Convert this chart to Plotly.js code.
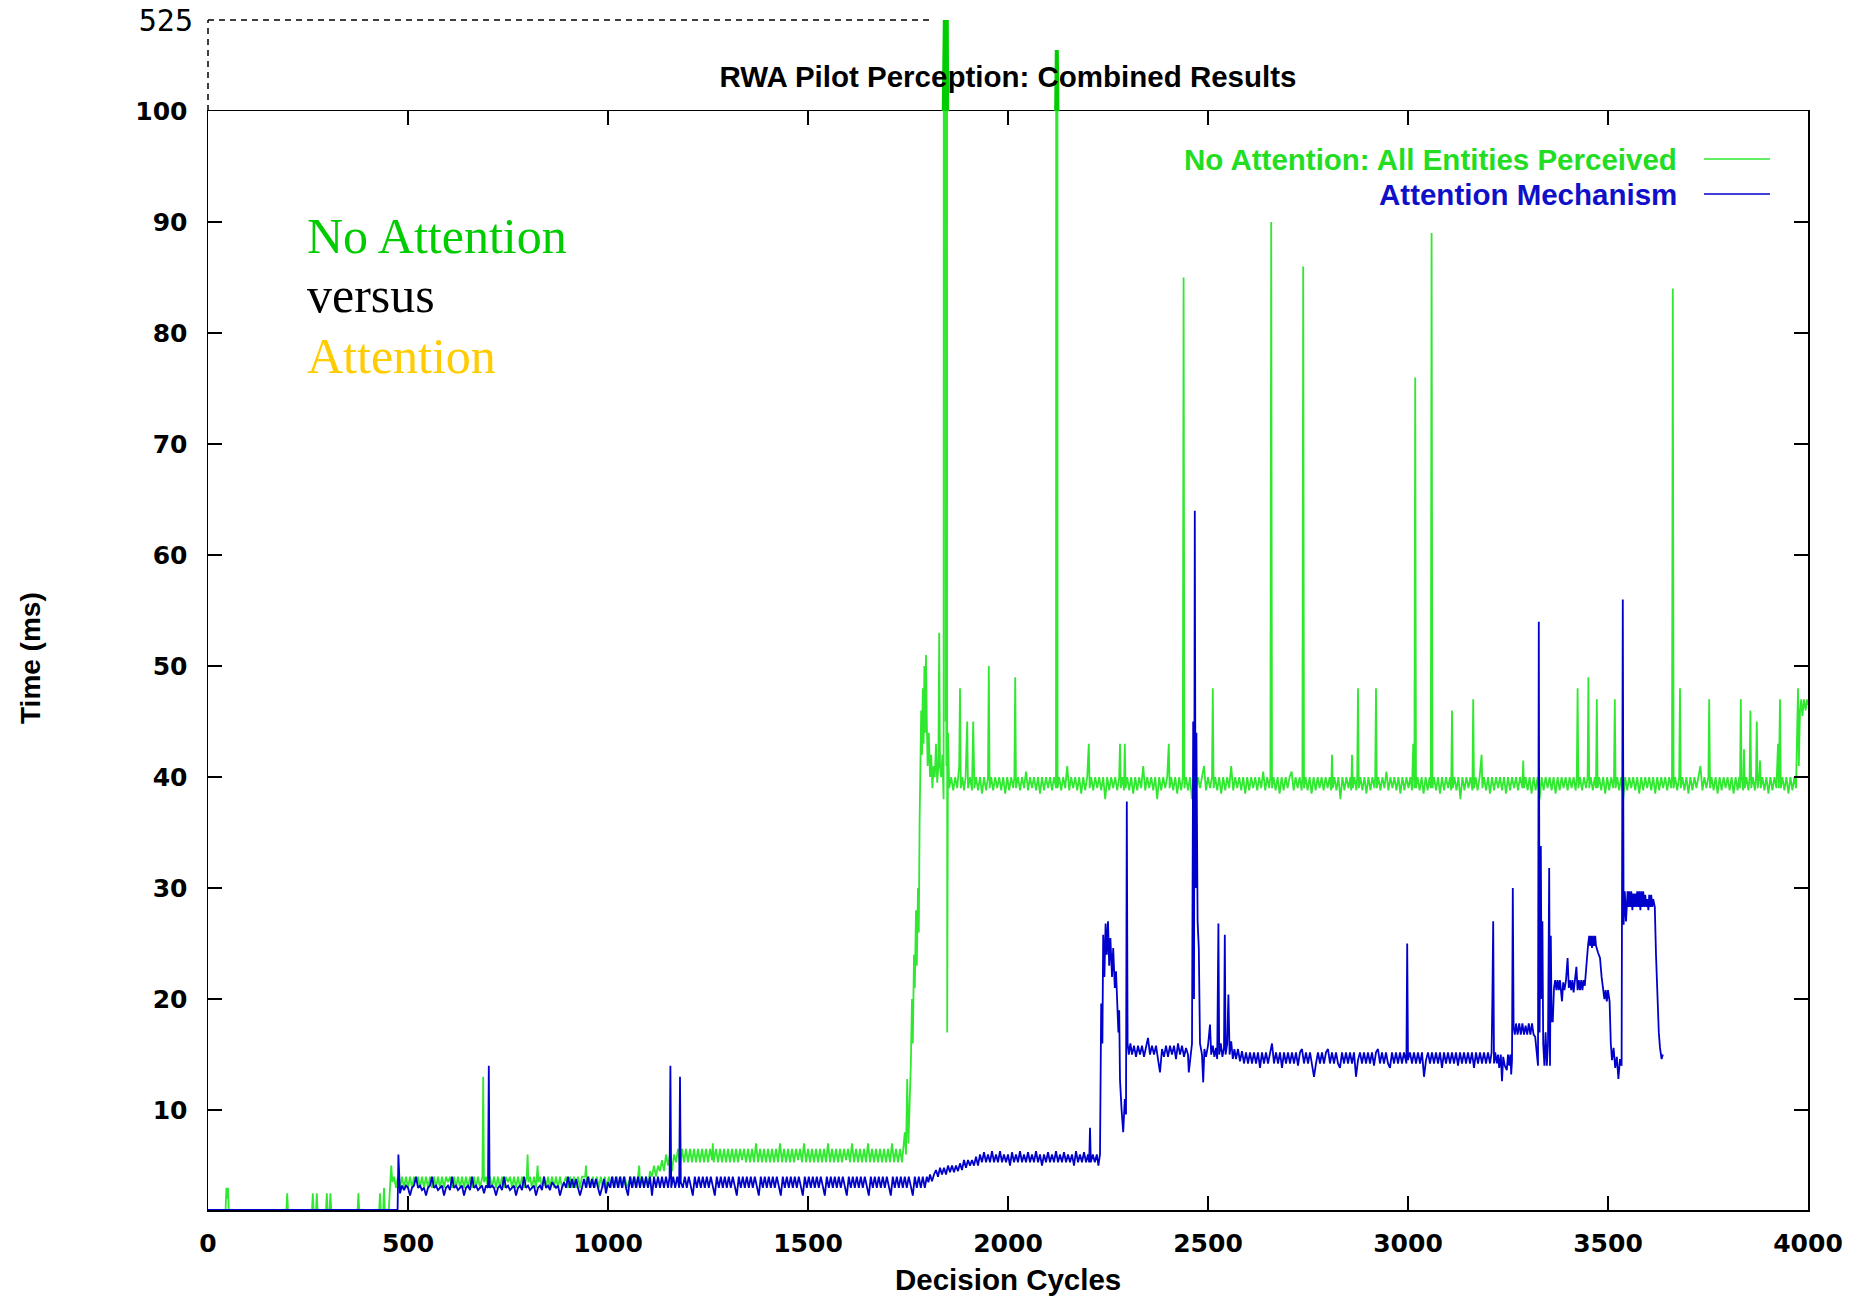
<!DOCTYPE html>
<html>
<head>
<meta charset="utf-8">
<script src="https://cdn.plot.ly/plotly-3.0.1.min.js"></script>
<style>html,body{margin:0;padding:0;background:#fff}#chart{width:1866px;height:1297px}</style>
</head>
<body>
<div id="chart"></div>
<script>
// ---- data: [decision cycle, time (ms)] ----
const noAttnStart = [[0,1],[44,1],[46,3],[48,2],[50,3],[52,1],[196,1],[198,2.5],[200,1],[260,1],[262,2.5],[264,1],[270,1],[272,2.5],[274,1],[295,1],[297,2.5],[299,1],[304,1],[306,2.5],[308,1],[374,1],[376,2.5],[378,1],[428,1],[430,2.5],[432,1],[438,1],[440,3],[442,1],[452,1]];
const noAttnLow = [[455,3],[458,5],[461,3.5],[465,4],[470,3],[475,4],[480,3],[485,4],[490,3],[495,4],[500,3],[505,4],[510,3],[515,4],[520,3.5],[525,4],[530,3],[535,4],[540,3],[545,4],[550,3],[555,4],[560,3],[565,4],[570,3],[575,4],[580,3],[585,4],[590,3],[595,4],[600,3.5],[605,4],[610,3],[615,4],[620,3],[625,4],[630,3],[635,4],[640,3],[645,4],[650,3],[655,4],[660,3],[665,4],[670,3],[675,4],[680,3],[686,4],[688,13],[690,3.5],[695,4],[700,3],[705,4],[710,3],[715,4],[720,3],[725,4],[730,3],[735,4],[740,3],[745,4],[750,3.5],[755,4],[760,3],[765,4],[770,3],[775,4],[780,3],[785,4],[790,3],[797,4],[799,6],[801,3.5],[805,4],[810,3],[815,4],[820,3],[824,5],[826,3.5],[830,4],[835,3],[840,4],[845,3],[850,4],[855,3],[860,4],[865,3],[870,4],[875,3],[880,4],[885,3],[890,3.5],[895,4],[900,3],[905,4],[910,3],[915,4],[920,3],[925,4],[930,3],[935,4],[943,4],[945,5],[947,3],[952,4],[957,3],[962,4],[967,3],[972,4],[977,3],[982,4],[987,3],[992,4],[997,3],[1002,4],[1007,3],[1012,4],[1017,3],[1022,4],[1027,3],[1032,4],[1037,3],[1042,4],[1047,3],[1052,3.5],[1057,4],[1062,3],[1067,4],[1072,3],[1078,5],[1080,3.5],[1085,4],[1090,3],[1095,4],[1100,3],[1105,4.5],[1110,4],[1115,5],[1120,4],[1125,5],[1130,4.5],[1135,5.5],[1140,4.5]];
const noAttnMid = [[1145,6],[1150,5],[1155,6],[1160,4.5],[1165,6],[1170,5.3],[1175,6.5],[1180,5],[1185,6.5],[1190,5.3],[1195,6.5],[1200,5.3],[1205,6.5],[1210,5.3],[1215,6.5],[1220,5.3],[1225,6.5],[1230,5.3],[1235,6.5],[1240,5.3],[1245,6.5],[1250,5.3],[1255,6.5],[1260,5.5],[1262,7],[1264,5.3],[1270,6.5],[1275,5.3],[1280,6.5],[1285,5.3],[1290,6.5],[1295,5.3],[1300,6.5],[1305,5.3],[1310,6.5],[1315,5.3],[1320,6.5],[1325,5.3],[1330,6.5],[1335,5.5],[1340,6.5],[1345,5.3],[1350,6.5],[1355,5.3],[1360,6.5],[1365,5.3],[1370,7],[1375,5.3],[1380,6.5],[1385,5.3],[1390,6.5],[1395,5.3],[1400,6.5],[1405,5.3],[1410,6.5],[1415,5.3],[1420,6.5],[1425,5.3],[1430,7],[1435,5.3],[1440,6.5],[1445,5.3],[1450,6.5],[1455,5.3],[1460,6.5],[1465,5.3],[1470,6.5],[1475,5.5],[1480,6.5],[1485,5.3],[1490,7],[1495,5.3],[1500,6.5],[1505,5.3],[1510,6.5],[1515,5.3],[1520,6.5],[1525,5.3],[1530,6.5],[1535,5.3],[1540,6.5],[1545,5.3],[1550,7],[1555,5.3],[1560,6.5],[1565,5.3],[1570,6.5],[1575,5.3],[1580,6.5],[1585,5.3],[1590,6.5],[1595,5.5],[1600,6.5],[1605,5.3],[1610,7],[1615,5.3],[1620,6.5],[1625,5.3],[1630,6.5],[1635,5.3],[1640,6.5],[1645,5.3],[1650,7],[1655,5.3],[1660,6.5],[1665,5.3],[1670,6.5],[1675,5.3],[1680,6.5],[1685,5.3],[1690,6.5],[1695,5.3],[1700,6.5],[1705,5.3],[1710,7],[1715,5.3],[1720,6.5],[1725,5.3],[1730,6.5],[1735,5.3],[1738,6.5]];
const noAttnRise = [[1742,8],[1745,6],[1748,12.8],[1751,7],[1754,10],[1757,14],[1760,20],[1762,16],[1765,24],[1767,21],[1770,28],[1772,23],[1775,30],[1777,26],[1779,36],[1781,40],[1783,46],[1785,42],[1787,48],[1789,43],[1791,50],[1793,44],[1795,51],[1797,45],[1799,41],[1802,44],[1805,40],[1808,42],[1811,39],[1814,41],[1817,40],[1820,43],[1823,39.5],[1826,41],[1828,53],[1830,41],[1833,40],[1836,42],[1839,38],[1842,525],[1844,45],[1845,62],[1846,41],[1847,525],[1848,17],[1850,44],[1853,39]];
const noAttnPlateau = [[1858,40],[1863,38.8],[1868,40],[1873,39],[1878,41],[1880,48],[1882,39],[1886,40],[1890,38.8],[1894,40],[1898,45],[1900,39],[1905,40],[1910,38.8],[1913,45],[1916,39],[1920,40],[1925,38.8],[1930,40],[1935,38.5],[1940,40],[1945,38.8],[1950,40],[1952,50],[1954,39],[1958,40],[1963,38.8],[1968,40],[1973,39],[1978,40],[1983,38.8],[1988,40],[1993,38.5],[1998,40],[2003,38.8],[2008,40],[2013,39],[2016,40],[2018,49],[2020,39],[2025,40],[2030,38.8],[2035,40],[2040,39],[2045,40.5],[2050,38.8],[2055,40],[2060,39],[2065,40],[2070,38.8],[2075,40],[2080,38.5],[2085,40],[2090,38.8],[2095,40],[2100,39],[2105,40],[2110,38.8],[2115,40],[2120,39],[2122,385],[2124,39],[2128,40],[2133,38.8],[2138,40],[2143,39],[2148,41],[2153,38.8],[2158,40],[2163,39],[2168,40],[2173,38.8],[2178,40],[2183,38.5],[2188,40],[2193,38.8],[2198,40],[2202,43],[2204,39],[2208,40],[2213,38.8],[2218,40],[2223,39],[2228,40],[2233,38.8],[2238,40],[2243,38],[2248,40],[2253,38.8],[2258,40],[2263,39],[2268,40],[2273,38.8],[2278,40],[2280,43],[2282,39],[2286,40],[2290,38.8],[2292,43],[2294,39],[2298,40],[2303,38.8],[2308,40],[2313,38.5],[2318,40],[2323,38.8],[2328,40],[2333,39],[2338,41],[2343,38.8],[2348,40],[2353,39],[2358,40],[2363,38.8],[2368,40],[2373,38],[2378,40],[2383,38.8],[2388,40],[2393,39],[2398,40],[2402,43],[2404,39],[2408,40],[2413,38.8],[2418,40],[2423,38.5],[2428,40],[2433,38.8],[2437,40],[2439,85],[2441,39],[2445,40],[2450,38.8],[2455,40],[2460,38],[2465,40],[2470,38.8],[2475,40],[2480,39],[2485,40],[2490,41],[2495,38.8],[2500,40],[2505,39],[2510,40],[2512,48],[2514,39],[2518,40],[2523,38.8],[2528,40],[2533,38.5],[2538,40],[2543,38.8],[2548,40],[2553,39],[2558,41],[2563,38.8],[2568,40],[2573,39],[2578,40],[2583,38.8],[2588,40],[2593,38.5],[2598,40],[2603,38.8],[2608,40],[2613,39],[2618,40],[2623,38.8],[2628,40],[2633,39],[2638,40.5],[2643,38.8],[2648,40],[2653,39],[2656,40],[2658,90],[2660,39],[2664,40],[2669,38.8],[2674,40],[2679,38.5],[2684,40],[2689,38.8],[2694,40],[2699,39],[2704,40],[2709,40.5],[2714,38.8],[2719,40],[2724,39],[2729,40],[2734,38.8],[2736,40],[2738,86],[2740,39],[2744,40],[2749,38.8],[2754,40],[2759,38.5],[2764,40],[2769,38.8],[2774,40],[2779,39],[2784,40],[2789,38.8],[2794,40],[2799,39],[2804,40],[2808,38.8],[2810,42],[2812,39],[2816,40],[2821,38.8],[2826,40],[2831,38],[2836,40],[2841,38.8],[2846,40],[2851,39],[2856,40],[2858,38.8],[2860,42],[2862,39],[2866,40],[2871,38.8],[2873,40],[2875,48],[2877,39],[2881,40],[2886,38.8],[2891,40],[2896,38.5],[2901,40],[2906,38.8],[2911,40],[2916,39],[2918,40],[2920,48],[2922,39],[2926,40],[2931,38.8],[2936,40],[2941,39],[2946,40.5],[2951,38.8],[2956,40],[2961,39],[2966,40],[2971,38.8],[2976,40],[2981,38.5],[2986,40],[2991,38.8],[2996,40],[3001,39],[3006,40],[3010,38.8],[3013,43],[3016,39],[3018,76],[3020,39],[3024,40],[3029,38.8],[3034,40],[3039,38.5],[3044,40],[3049,38.8],[3054,40],[3057,39],[3059,89],[3061,39],[3065,40],[3070,38.8],[3075,40],[3080,38.5],[3085,40],[3090,38.8],[3095,40],[3100,39],[3105,40],[3108,38.8],[3110,46],[3112,39],[3116,40],[3121,38.8],[3126,40],[3131,38],[3136,40],[3141,38.8],[3146,40],[3151,39],[3156,40],[3161,38.8],[3163,47],[3165,39],[3169,40],[3174,38.8],[3179,40],[3184,42],[3186,39],[3190,40],[3195,38.8],[3200,40],[3205,38.5],[3210,40],[3215,38.8],[3220,40],[3225,39],[3230,40],[3235,38.8],[3240,40],[3245,38.5],[3250,40],[3255,38.8],[3260,40],[3265,39],[3270,40],[3275,38.8],[3280,40],[3286,39],[3288,41.5],[3290,39],[3294,40],[3299,38.8],[3304,40],[3309,38.5],[3314,40],[3319,38.8],[3324,40],[3329,38],[3334,40],[3339,38.8],[3344,40],[3349,39],[3354,40],[3359,38.8],[3364,40],[3369,38.5],[3374,40],[3379,38.8],[3384,40],[3389,39],[3394,40],[3399,38.8],[3404,40],[3409,39],[3414,40],[3419,38.8],[3422,40],[3424,48],[3426,39],[3430,40],[3435,38.8],[3440,40],[3445,39],[3449,40],[3451,49],[3453,39],[3457,40],[3462,38.8],[3467,40],[3470,39],[3472,47],[3474,39],[3478,40],[3483,38.8],[3488,40],[3493,38.5],[3498,40],[3503,38.8],[3508,40],[3513,39],[3515,40],[3517,47],[3519,39],[3523,40],[3528,38.8],[3533,40],[3538,38],[3543,40],[3548,38.8],[3553,40],[3558,39],[3563,40],[3568,38.8],[3573,40],[3578,38.5],[3583,40],[3588,38.8],[3593,40],[3598,39],[3603,40],[3608,38.8],[3613,40],[3618,38.5],[3623,40],[3628,38.8],[3633,40],[3638,39],[3643,40],[3648,38.8],[3653,40],[3658,39],[3660,40],[3662,84],[3664,39],[3668,40],[3673,38.8],[3678,40],[3680,48],[3682,39],[3686,40],[3691,38.8],[3696,40],[3701,38.5],[3706,40],[3711,38.8],[3716,40],[3721,39],[3726,40],[3731,41],[3736,38.8],[3741,40],[3746,39],[3751,40],[3753,47],[3755,39],[3759,40],[3764,38.8],[3769,40],[3774,38.5],[3779,40],[3784,38.8],[3789,40],[3794,39],[3799,40],[3804,38.8],[3809,40],[3814,38.5],[3819,40],[3824,38.8],[3828,40],[3830,39],[3832,47],[3834,40],[3838,38.8],[3840,42.5],[3842,39],[3846,40],[3851,38.8],[3854,40],[3856,46],[3858,39],[3862,40],[3867,38.8],[3870,40],[3872,45],[3874,39],[3878,40],[3880,41.5],[3882,39],[3886,40],[3891,38.8],[3896,40],[3901,38.5],[3906,40],[3911,38.8],[3916,40],[3921,39],[3925,43],[3927,39],[3930,47],[3932,39],[3936,40],[3941,38.8],[3946,40],[3951,38.5],[3956,40],[3961,38.8],[3966,40],[3970,39],[3975,48],[3977,41],[3980,46],[3983,47],[3986,45.5],[3990,47],[3994,46],[3998,47],[4000,46.5]];

const attnStart = [[0,1],[474,1],[476,6],[478,3]];
const attnLow = [[480,2.5],[485,3.2],[490,2.8],[495,3.2],[500,3],[505,2.3],[510,3],[515,3.2],[520,4],[525,3],[530,3.2],[535,2.8],[540,3],[545,2.3],[550,3],[555,3.2],[560,4],[565,3],[570,3.2],[575,2.8],[580,3],[585,3.2],[590,2.3],[595,3],[600,3.2],[605,2.8],[610,4],[615,3],[620,3.2],[625,2.8],[630,3],[635,3.2],[640,2.3],[645,3],[650,3.2],[655,2.8],[660,4],[665,3],[670,3.2],[675,2.8],[680,3],[685,3.2],[690,2.5],[695,3.2],[700,3],[702,14],[704,3],[710,3.2],[715,3],[720,2.3],[725,3],[730,3.2],[735,2.8],[740,4],[745,3],[750,3.2],[755,2.8],[760,3],[765,3.2],[770,2.3],[775,3],[780,3.2],[785,2.8],[790,4],[795,3],[800,3.2],[805,2.8],[810,3],[815,3.2],[820,2.3],[825,3],[830,3.2],[835,2.8],[840,4],[845,3],[850,3.2],[855,2.8],[860,3.5],[865,3.2],[870,3],[875,3.2],[880,2.3],[885,3],[890,3.5],[895,3],[900,4],[905,3],[910,3.8],[915,3],[920,3.8],[925,3],[930,2.3],[935,3],[940,3.8],[945,3],[950,4],[955,3],[960,3.8],[965,3],[970,3.8],[975,3],[980,2.3],[985,3],[990,3.8],[995,2.5],[1000,3.5]];
const attnMid = [[1005,3],[1010,4],[1015,3],[1020,4],[1025,3],[1030,4],[1035,3],[1040,4],[1045,3],[1050,2.3],[1055,4],[1060,3],[1065,4],[1070,3],[1075,4],[1080,3],[1085,4],[1090,3],[1095,4],[1100,3],[1105,4],[1110,2.3],[1115,4],[1120,3],[1125,4],[1130,3],[1135,4],[1140,3],[1145,4],[1150,3],[1154,4],[1156,14],[1158,3],[1163,4],[1168,3],[1173,4],[1178,3],[1180,13],[1182,3.5],[1187,3],[1192,4],[1197,3],[1202,4],[1207,3],[1212,2.3],[1217,4],[1222,3],[1227,4],[1232,3],[1237,4],[1242,3],[1247,4],[1252,3],[1257,4],[1262,3],[1267,2.3],[1272,4],[1277,3],[1282,4],[1287,3],[1292,4],[1297,3],[1302,4],[1307,3],[1312,4],[1317,3],[1322,2.3],[1327,4],[1332,3],[1337,4],[1342,3],[1347,4],[1352,3],[1357,4],[1362,3],[1367,4],[1372,3],[1377,2.3],[1382,4],[1387,3],[1392,4],[1397,3],[1402,4],[1407,3],[1412,4],[1417,3],[1422,4],[1427,3],[1432,2.3],[1437,4],[1442,3],[1447,4],[1452,3],[1457,4],[1462,3],[1467,4],[1472,3],[1477,4],[1482,3],[1487,2.3],[1492,4],[1497,3],[1502,4],[1507,3],[1512,4],[1517,3],[1522,4],[1527,3],[1532,4],[1537,3],[1542,2.3],[1547,4],[1552,3],[1557,4],[1562,3],[1567,4],[1572,3],[1577,4],[1582,3],[1587,4],[1592,3],[1597,2.3],[1602,4],[1607,3],[1612,4],[1617,3],[1622,4],[1627,3],[1632,4],[1637,3],[1642,4],[1647,3],[1652,2.3],[1657,4],[1662,3],[1667,4],[1672,3],[1677,4],[1682,3],[1687,4],[1692,3],[1697,4],[1702,3],[1707,2.3],[1712,4],[1717,3],[1722,4],[1727,3],[1732,4],[1737,3],[1742,4],[1747,3],[1752,4],[1757,3],[1762,2.3],[1767,4],[1772,3],[1777,4],[1782,3],[1787,4],[1792,3],[1797,4]];
const attnRise = [[1801,3.5],[1805,4.2],[1810,3.6],[1815,4.2],[1820,4.6],[1825,4],[1830,4.8],[1835,4.2],[1840,4.8],[1845,4.2],[1850,5],[1855,4.4],[1860,5],[1865,4.4],[1870,5],[1875,4.5],[1880,5.2],[1885,4.6],[1890,5.5],[1895,4.8],[1900,5.5],[1905,5],[1910,5.5],[1915,5],[1920,5.8],[1925,5],[1930,6],[1935,5.3],[1940,6.2],[1945,5.3],[1950,6],[1955,5.3],[1960,6.3],[1965,5.3],[1970,6],[1975,5.3],[1980,6.3],[1985,5.3],[1990,6],[1995,5.3],[2000,6],[2005,5],[2010,6.2],[2015,5.3],[2020,6],[2025,5.3],[2030,6.3],[2035,5.3],[2040,6],[2045,5.3],[2050,6.2],[2055,5.3],[2060,6],[2065,5.3],[2070,6.3],[2075,5.3],[2080,6],[2085,5],[2090,6],[2095,5.3],[2100,6.2],[2105,5.3],[2110,6],[2115,5.3],[2120,6.3],[2125,5.3],[2130,6],[2135,5.3],[2140,6.2],[2145,5.3],[2150,6],[2155,5.3],[2160,6],[2165,5],[2170,6.3],[2175,5.3],[2180,6],[2185,5.3],[2190,6.2],[2195,5.3],[2200,6],[2203,5.3],[2205,8.4],[2207,5.3],[2212,6],[2217,5.3],[2222,6],[2226,5],[2230,6],[2233,19.6],[2236,16],[2238,25.8],[2241,22],[2244,26.8],[2247,24],[2250,27],[2253,23],[2256,25.5],[2260,22],[2263,24.6],[2267,21],[2270,22.5],[2273,19.6],[2276,17],[2278,19],[2280,12.7],[2284,10],[2288,8],[2292,11],[2295,9.6],[2297,37.8],[2299,16],[2302,15]];
const attnPlateau = [[2306,16],[2310,15],[2315,15.8],[2320,14.8],[2325,15.8],[2330,15],[2335,15.8],[2340,14.8],[2345,15.8],[2350,16.5],[2355,15],[2360,15.8],[2365,15],[2370,15.8],[2375,14.6],[2380,13.4],[2385,15.5],[2390,14.8],[2395,15.8],[2400,14.8],[2405,15.8],[2410,15],[2415,15.8],[2420,14.6],[2425,16],[2430,15],[2435,15.8],[2440,14.8],[2445,15.6],[2450,15],[2452,13.4],[2456,15],[2460,16],[2463,45],[2465,20],[2467,64],[2469,30],[2471,44],[2474,27],[2477,24.6],[2480,16],[2485,15],[2488,12.5],[2491,15.5],[2495,14.8],[2500,15.8],[2505,17.7],[2508,15],[2512,15.8],[2516,14.8],[2520,15.6],[2523,14.6],[2526,26.8],[2528,15],[2532,16],[2536,14.8],[2540,15.6],[2542,25.8],[2544,15],[2548,16],[2551,20.4],[2554,15],[2558,16.2],[2562,14.6],[2566,15.5],[2570,14.6],[2575,15.5],[2580,14.4],[2585,15.3],[2590,14.2],[2595,15.2],[2600,14.2],[2605,15.2],[2610,14.2],[2615,15.2],[2620,14.2],[2625,15.2],[2630,13.8],[2635,15.2],[2640,14.2],[2645,15.2],[2650,14.2],[2655,15.2],[2660,16],[2665,14.2],[2670,15.2],[2675,14.2],[2680,15.2],[2685,13.8],[2690,15.2],[2695,14.2],[2700,15.2],[2705,14.2],[2710,15.2],[2715,14.2],[2720,15.2],[2725,14],[2730,15.2],[2735,15.5],[2740,14.2],[2745,15.2],[2750,14.2],[2755,15.2],[2760,14.2],[2765,13],[2770,14.2],[2775,15.2],[2780,14.2],[2785,15.2],[2790,14.2],[2795,15.2],[2800,15.5],[2805,14.2],[2810,15.2],[2815,14.2],[2820,15.2],[2825,14.2],[2830,13.8],[2835,15.2],[2840,14.2],[2845,15.2],[2850,14.2],[2855,15.2],[2860,14.2],[2865,15.2],[2870,13],[2875,14.5],[2880,15.2],[2885,14.2],[2890,15.2],[2895,14.2],[2900,15.2],[2905,14.2],[2910,15.2],[2915,14],[2920,15.2],[2925,15.5],[2930,14.2],[2935,15.2],[2940,14.2],[2945,15.2],[2950,14.2],[2955,13.8],[2960,15.2],[2965,14.2],[2970,15.2],[2975,14.2],[2980,15.2],[2985,14.2],[2990,15.2],[2996,14.2],[2998,25],[3000,14.5],[3005,15.2],[3010,14.2],[3015,15.2],[3020,14.2],[3025,15.2],[3030,14.2],[3035,15.2],[3040,13],[3045,14.5],[3050,15.2],[3055,14.2],[3060,15.2],[3065,14.2],[3070,15.2],[3075,14.2],[3080,15.2],[3085,13.8],[3090,15.2],[3095,14.2],[3100,15.2],[3105,14.2],[3110,15.2],[3115,14.2],[3120,15.2],[3125,14],[3130,15.2],[3135,14.2],[3140,15.2],[3145,14.2],[3150,15.2],[3155,14.2],[3160,15.2],[3165,13.8],[3170,15.2],[3175,14.2],[3180,15.2],[3185,14.2],[3190,15.2],[3195,14.2],[3200,15.2],[3205,14.2],[3209,15.2],[3211,20.2],[3213,27],[3215,14.2],[3218,15.2],[3222,14.2],[3225,15],[3228,13.8],[3232,15],[3235,12.6],[3238,14.8],[3242,14],[3247,13.6],[3250,15],[3253,14],[3256,15],[3258,13.2],[3260,14.5],[3262,30],[3264,17.5]];
const attnHigh = [[3267,16.8],[3270,17.8],[3274,16.8],[3278,17.8],[3282,16.8],[3286,17.8],[3290,16.8],[3294,17.6],[3298,16.8],[3302,17.8],[3306,16.8],[3310,17.8],[3314,16.8],[3318,16.6],[3322,15],[3325,14],[3327,54],[3329,17],[3332,33.8],[3334,20],[3336,27],[3338,16],[3341,14],[3344,17],[3347,14],[3350,16],[3353,31.8],[3355,14],[3357,25.7],[3359,18],[3362,18],[3365,21],[3368,21.7],[3371,20.8],[3374,21.7],[3377,20.8],[3380,21.7],[3383,20.6],[3385,19.8],[3388,21.5],[3391,20.8],[3395,21.7],[3399,23.7],[3402,21],[3405,21.7],[3408,20.8],[3411,21.7],[3414,20.6],[3418,21.7],[3421,22.9],[3424,20.8],[3427,21.7],[3430,20.8],[3433,21.7],[3436,20.8],[3439,21.7],[3442,21.2],[3446,23.5],[3450,24.8],[3453,25.7],[3455,24.8],[3458,25.7],[3460,24.6],[3463,25.7],[3465,24.8],[3468,25.7],[3470,24.8],[3475,24.2],[3480,23.7],[3484,22],[3488,20.8],[3491,20],[3494,20.8],[3497,19.8],[3500,20.8],[3504,19.8],[3507,16],[3510,14.5],[3514,15.6],[3518,13.8],[3522,14.8],[3526,12.8],[3530,14.6],[3534,14],[3537,56],[3539,26.7],[3542,29.7],[3545,27],[3549,29.7],[3551,28.3],[3553,29.7],[3556,28.3],[3558,29.7],[3561,28],[3563,29.5],[3566,28.3],[3568,29.5],[3571,28.3],[3573,29.7],[3576,28.3],[3578,29.7],[3581,28],[3583,29.7],[3586,28.3],[3588,29.7],[3591,28.3],[3593,29.4],[3596,28.3],[3598,29],[3601,28],[3603,29.4],[3606,28.3],[3608,29.4],[3611,28.3],[3613,29],[3617,28.3],[3620,24],[3623,20],[3627,17],[3630,15.6],[3634,14.6],[3637,15]];

const seriesNames = ['No Attention: All Entities Perceived', 'Attention Mechanism'];
const xTicks = [0, 500, 1000, 1500, 2000, 2500, 3000, 3500, 4000];
const yTicks = [10, 20, 30, 40, 50, 60, 70, 80, 90, 100];
const brokenTop = 525;

const noAttn = [].concat(noAttnStart, noAttnLow, noAttnMid, noAttnRise, noAttnPlateau);
const attn = [].concat(attnStart, attnLow, attnMid, attnRise, attnPlateau, attnHigh);

const GREEN = '#30e830', BLUE = '#0000cc';
const boldSans = {family: 'Liberation Sans, Arial, sans-serif', size: 29.5, color: '#000', weight: 'bold'};
const tickFont = {family: 'DejaVu Sans, sans-serif', size: 25, color: '#000', weight: 'bold'};

const traces = [
  {x: noAttn.map(p => p[0]), y: noAttn.map(p => p[1]), type: 'scatter', mode: 'lines', name: seriesNames[0],
   line: {color: GREEN, width: 1.8}, xaxis: 'x', yaxis: 'y', hoverinfo: 'skip'},
  {x: attn.map(p => p[0]), y: attn.map(p => p[1]), type: 'scatter', mode: 'lines', name: seriesNames[1],
   line: {color: BLUE, width: 1.8}, xaxis: 'x', yaxis: 'y', hoverinfo: 'skip'},
  // broken-axis panel: same green data, only the part above 100 is visible
  {x: noAttn.map(p => p[0]), y: noAttn.map(p => p[1]), type: 'scatter', mode: 'lines', name: 'overflow',
   line: {color: '#00cc00', width: 4}, xaxis: 'x', yaxis: 'y2', hoverinfo: 'skip'}
];

const PW = 1600, PH = 1190, L = 208, T = 20;
const px = v => (v - L) / PW;
const py = v => (T + PH - v) / PH;
const mainTop = py(111);

const layout = {
  width: 1866, height: 1297,
  margin: {l: L, r: 58, t: T, b: 87},
  paper_bgcolor: '#fff', plot_bgcolor: 'rgba(0,0,0,0)',
  showlegend: false,
  title: {text: 'RWA Pilot Perception: Combined Results', x: 0.5, xref: 'paper', y: 1 - 77/1297, yref: 'container',
          xanchor: 'center', yanchor: 'middle', font: boldSans},
  xaxis: {range: [0, 4000], tickvals: xTicks, ticktext: xTicks.map(String), anchor: 'y',
          showline: true, linecolor: '#000', linewidth: 1.5, mirror: 'ticks',
          ticks: 'inside', ticklen: 14, tickwidth: 1.5, tickcolor: '#000',
          showgrid: false, zeroline: false, tickfont: tickFont, ticklabelstandoff: 10},
  yaxis: {domain: [0, mainTop], range: [1, 100], tickvals: yTicks, ticktext: yTicks.map(String), anchor: 'x',
          showline: true, linecolor: '#000', linewidth: 1.5, mirror: 'ticks',
          ticks: 'inside', ticklen: 14, tickwidth: 1.5, tickcolor: '#000',
          showgrid: false, zeroline: false, tickfont: tickFont, ticklabelstandoff: 14},
  yaxis2: {domain: [mainTop, 1], range: [100, brokenTop], tickvals: [brokenTop], ticktext: [String(brokenTop)], anchor: 'x',
           showline: false, ticks: '', showgrid: false, zeroline: false, ticklabelstandoff: 14,
           tickfont: {family: 'DejaVu Sans Mono, monospace', size: 30, color: '#000'}},
  shapes: [
    {type: 'line', xref: 'paper', yref: 'paper', x0: 0, x1: 1815/4000, y0: 1, y1: 1, line: {color: '#000', width: 1.5, dash: '6px,5px'}},
    {type: 'line', xref: 'paper', yref: 'paper', x0: 0, x1: 0, y0: mainTop, y1: 1, line: {color: '#000', width: 1.5, dash: '6px,5px'}},
    {type: 'line', xref: 'paper', yref: 'paper', x0: px(1704), x1: px(1770), y0: py(159), y1: py(159), line: {color: GREEN, width: 1.5}},
    {type: 'line', xref: 'paper', yref: 'paper', x0: px(1704), x1: px(1770), y0: py(194), y1: py(194), line: {color: BLUE, width: 1.5}}
  ],
  annotations: [
    {text: seriesNames[0], xref: 'paper', yref: 'paper', x: px(1679), y: py(159), xanchor: 'right', yanchor: 'middle', showarrow: false,
     font: Object.assign({}, boldSans, {color: '#22dd22'})},
    {text: seriesNames[1], xref: 'paper', yref: 'paper', x: px(1679), y: py(194), xanchor: 'right', yanchor: 'middle', showarrow: false,
     font: Object.assign({}, boldSans, {color: '#1010c8'})},
    {text: 'Time (ms)', xref: 'paper', yref: 'paper', x: px(30), y: py(658), textangle: -90, xanchor: 'center', yanchor: 'middle', showarrow: false,
     font: Object.assign({}, boldSans, {size: 28})},
    {text: 'Decision Cycles', xref: 'paper', yref: 'paper', x: 0.5, y: py(1279), xanchor: 'center', yanchor: 'middle', showarrow: false, font: boldSans},
    {text: 'No Attention', xref: 'paper', yref: 'paper', x: px(305), y: py(236), xanchor: 'left', yanchor: 'middle', showarrow: false,
     font: {family: 'Liberation Serif, Times New Roman, serif', size: 50, color: '#00cc00'}},
    {text: 'versus', xref: 'paper', yref: 'paper', x: px(305), y: py(295), xanchor: 'left', yanchor: 'middle', showarrow: false,
     font: {family: 'Liberation Serif, Times New Roman, serif', size: 50, color: '#000'}},
    {text: 'Attention', xref: 'paper', yref: 'paper', x: px(305), y: py(356), xanchor: 'left', yanchor: 'middle', showarrow: false,
     font: {family: 'Liberation Serif, Times New Roman, serif', size: 50, color: '#ffcc00'}}
  ]
};

Plotly.newPlot('chart', traces, layout, {staticPlot: true, displayModeBar: false});
</script>
</body>
</html>
